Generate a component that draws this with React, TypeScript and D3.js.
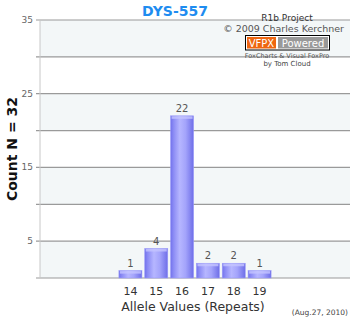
import React from "react";
import * as d3 from "d3";

const alleles = [14, 15, 16, 17, 18, 19];
const counts = [1, 4, 22, 2, 2, 1];
const yGrid = [0, 5, 10, 15, 20, 25, 30, 35];
const yLabels = [5, 15, 25, 35];

const W = 350, H = 320;
const left = 40, right = 350, top = 20, bottom = 278;

export default function App() {
  const x = d3.scaleLinear().domain([10.5, 22.5]).range([left, right]);
  const y = d3.scaleLinear().domain([0, 35]).range([bottom, top]);
  const bw = 23;
  const font = "Verdana, 'DejaVu Sans', sans-serif";
  return (
    <svg width={W} height={H} style={{ position: "absolute", left: 0, top: 0, background: "#fff" }} fontFamily={font}>
      <defs>
        <linearGradient id="bar" x1="0" x2="1" y1="0" y2="0">
          <stop offset="0" stopColor="#7272ec" />
          <stop offset="0.12" stopColor="#8a8af4" />
          <stop offset="0.4" stopColor="#b6b6ff" />
          <stop offset="0.65" stopColor="#a4a4fb" />
          <stop offset="1" stopColor="#6e6ee8" />
        </linearGradient>
      </defs>
      {yGrid.slice(0, -1).map((v, i) =>
        i % 2 === 0 ? (
          <rect key={"b" + v} x={left} y={y(v + 5)} width={right - left} height={y(v) - y(v + 5)} fill="#f3f7f8" />
        ) : null
      )}
      {yGrid.map((v) => (
        <line key={"g" + v} x1={left - 4} x2={right} y1={y(v)} y2={y(v)} stroke="#9a9a9a" strokeWidth={1.2} />
      ))}
      <line x1={left} x2={left} y1={top} y2={bottom} stroke="#c8c8c8" strokeWidth={1} />
      {yLabels.map((v) => (
        <text key={"yl" + v} x={left - 7} y={y(v) + 3} textAnchor="end" fontSize={9} fill="#666">{v}</text>
      ))}
      <text x={287} y={21} textAnchor="middle" fontSize={9} fill="#333">R1b Project</text>
      <text x={344} y={32} textAnchor="end" fontSize={9.5} fill="#555">© 2009 Charles Kerchner</text>
      <rect x={245.5} y={35.5} width={84} height={14.5} fill="#fff" stroke="#000" strokeWidth={1} />
      <rect x={247} y={37} width={29} height={11.5} fill="#ee6611" />
      <rect x={278} y={37} width={50} height={11.5} fill="#999" />
      <text x={261.5} y={46.5} textAnchor="middle" fontSize={10} fill="#fff">VFPX</text>
      <text x={303} y={46.5} textAnchor="middle" fontSize={10} fill="#fff">Powered</text>
      <text x={287} y={58} textAnchor="middle" fontSize={6.5} fill="#555">FoxCharts &amp; Visual FoxPro</text>
      <text x={287} y={66} textAnchor="middle" fontSize={7} fill="#444">by Tom Cloud</text>
      {alleles.map((a, i) => {
        const cx = x(a);
        const yt = y(counts[i]);
        return (
          <g key={"bar" + a}>
            <rect x={cx - bw / 2} y={yt} width={bw} height={bottom - yt} fill="url(#bar)" stroke="#9a9af8" strokeWidth={0.6} />
            <rect x={cx - bw / 2 + 1} y={yt + 0.5} width={bw - 2} height={2.5} fill="#c4c4ff" opacity={0.8} />
            <text x={cx} y={yt - 4} textAnchor="middle" fontSize={10} fill="#555">{counts[i]}</text>
            <text x={cx} y={295} textAnchor="middle" fontSize={11} fill="#333">{a}</text>
          </g>
        );
      })}
      <text x={175} y={16} textAnchor="middle" fontSize={14} fontWeight="bold" fill="#1e8cf0">DYS-557</text>
      <text transform={`translate(17,${(top + bottom) / 2}) rotate(-90)`} textAnchor="middle" fontSize={14} fontWeight="bold" fill="#111">Count N = 32</text>
      <text x={193} y={311} textAnchor="middle" fontSize={12.5} fill="#333">Allele Values (Repeats)</text>
      <text x={348} y={315} textAnchor="end" fontSize={7.5} fill="#444">(Aug.27, 2010)</text>
    </svg>
  );
}
